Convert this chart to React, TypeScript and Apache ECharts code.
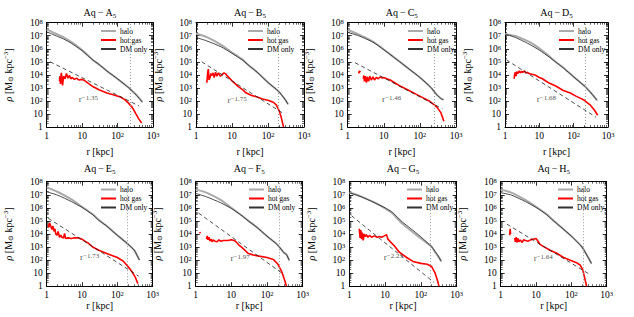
import React, { useEffect, useRef } from 'react';
import * as echarts from 'echarts';

const FONT = '"Liberation Serif", "DejaVu Serif", serif';

const panelNames = ['A', 'B', 'C', 'D', 'E', 'F', 'G', 'H'];
const slopes = ['−1.35', '−1.75', '−1.46', '−1.68', '−1.73', '−1.97', '−2.23', '−1.64'];
const r200 = [224, 193, 246, 217, 196, 221, 188, 210];
const slopeLabelPos = [[15, 140], [13.8, 117], [16.5, 132], [16, 132], [16.5, 158], [17.5, 135], [17, 158], [16, 135]];
const xTicks = [1, 10, 100, 1000];
const yTicks = [1, 10, 100, 1e3, 1e4, 1e5, 1e6, 1e7, 1e8];

const haloA = [[1, 3.1e7], [1.5, 1.8e7], [2, 1.26e7], [3, 7.4e6], [5, 3.2e6], [10, 7.9e5], [20, 1.4e5], [30, 6.3e4], [50, 2e4], [100, 4.8e3], [200, 1.1e3], [260, 5.6e2], [300, 4e2], [400, 1.8e2], [500, 80]];
const dmA = [[1, 2e7], [1.5, 1.26e7], [2, 8.9e6], [3, 5.6e6], [5, 2.6e6], [10, 7.1e5], [20, 1.4e5], [30, 6.3e4], [50, 2e4], [100, 5e3], [200, 1.1e3], [300, 4e2], [500, 80]];
const gasA = [[2.3, 3.16e3], [2.35, 7.9e3], [2.45, 2e3], [2.55, 1e4], [2.6, 1.41e4], [2.7, 3.98e3], [2.8, 1.58e3], [3.0, 7.9e3], [3.3, 5e3], [3.6, 1.26e4], [4.0, 5.6e3], [4.4, 8.9e3], [4.8, 5e3], [5.3, 6.3e3], [6, 4.5e3], [7, 5.6e3], [8, 4e3], [10, 4.5e3], [12, 3.5e3], [15, 2.2e3], [20, 1.26e3], [30, 7.1e2], [50, 4e2], [80, 2.8e2], [120, 2e2], [160, 1.26e2], [200, 71], [260, 32], [330, 10], [400, 4], [480, 2]];
const fitA = [[1.25, 1e5], [400, 42]];

const haloB = [[1, 1.5e7], [2, 7.9e6], [5, 2e6], [10, 5.2e5], [20, 1.4e5], [30, 5e4], [50, 1.6e4], [100, 2.6e3], [200, 5.2e2], [300, 1.26e2], [360, 56]];
const dmB = [[1, 7.4e6], [2, 4e6], [5, 1.4e6], [10, 4.5e5], [20, 1.3e5], [30, 5e4], [50, 1.6e4], [100, 2.6e3], [200, 5.2e2], [300, 1.26e2], [360, 56]];
const gasB = [[2.0, 2.5e3], [2.1, 1.26e4], [2.2, 2.8e4], [2.3, 4e3], [2.45, 6.3e3], [2.6, 1.26e4], [2.8, 8.9e3], [3.0, 1.41e4], [3.2, 6.3e3], [3.5, 1.58e4], [3.8, 7.9e3], [4.2, 1.41e4], [4.7, 7.9e3], [5.2, 1e4], [6, 1.41e4], [6.8, 1.12e4], [7.5, 7.9e3], [8.5, 5.6e3], [10, 3.5e3], [12, 2.2e3], [15, 1.26e3], [20, 7.1e2], [25, 4e2], [35, 2.6e2], [50, 2e2], [70, 1.41e2], [100, 1.12e2], [140, 79], [170, 50], [200, 20], [230, 6.3], [260, 1.58], [270, 1]];
const fitB = [[1.45, 1e5], [280, 10]];

const haloC = [[1, 2.75e7], [2, 1.26e7], [5, 3.5e6], [10, 8.9e5], [20, 2e5], [30, 8.5e4], [50, 2.8e4], [100, 6.3e3], [200, 1.1e3], [300, 2.8e2], [400, 1.4e2], [450, 1.26e2]];
const dmC = [[1, 1.8e7], [2, 1e7], [5, 3.2e6], [10, 8.5e5], [20, 2e5], [30, 8.5e4], [50, 2.8e4], [100, 6.3e3], [200, 1.1e3], [300, 2.8e2], [400, 1.4e2], [450, 1.26e2]];
const gasC = [[2.0, 1.26e4], [2.1, 2e4], [2.25, 1.58e4], [2.4, '-'], [2.7, 5e3], [2.8, 8.9e3], [2.9, 3.16e3], [3.1, 7.9e3], [3.3, 2.5e3], [3.5, 7.1e3], [3.8, 3.16e3], [4.1, 7.9e3], [4.5, 4e3], [5.0, 7.1e3], [5.5, 4e3], [6.2, 6.3e3], [7, 5e3], [8, 7.1e3], [9, 5.6e3], [10, 6.3e3], [12, 5e3], [15, 4e3], [20, 2.5e3], [30, 1.26e3], [50, 6.3e2], [80, 3.16e2], [120, 1.78e2], [180, 1e2], [250, 50], [300, 32], [380, 12.6], [430, 5], [460, 2.8]];
const fitC = [[1.6, 8.5e4], [420, 25]];

const haloD = [[1, 1.35e7], [2, 9.5e6], [3, 6.3e6], [5, 3.5e6], [10, 1.07e6], [20, 2.5e5], [30, 1e5], [50, 3.5e4], [100, 7.2e3], [200, 1.5e3], [300, 5e2], [400, 2e2], [480, 1.12e2]];
const dmD = [[1, 1.35e7], [2, 7.4e6], [3, 4.5e6], [5, 2.3e6], [10, 7.9e5], [20, 2.2e5], [30, 9.5e4], [50, 3.4e4], [100, 7e3], [200, 1.5e3], [300, 5e2], [400, 2e2], [480, 1.12e2]];
const gasD = [[1.85, 5e3], [1.9, 1e4], [2.0, 1.58e4], [2.1, 7.9e3], [2.2, 1.78e4], [2.4, 1.26e4], [2.6, 2e4], [2.8, 1.41e4], [3.0, 1.78e4], [3.3, 1.58e4], [3.7, 2e4], [4, 1.41e4], [4.5, 1.58e4], [5, 1.26e4], [6, 1.12e4], [7, 1e4], [8, 8.9e3], [10, 6.3e3], [12, 5.25e3], [15, 3.55e3], [20, 2.24e3], [30, 1.41e3], [50, 6.3e2], [80, 4e2], [120, 2.24e2], [200, 1.17e2], [300, 50], [400, 20], [500, 7.9]];
const fitD = [[1.1, 1.4e5], [450, 5.6]];

const haloE = [[1, 3.7e7], [2, 1.7e7], [5, 4.4e6], [10, 1.2e6], [20, 3.2e5], [30, 1.15e5], [50, 4e4], [100, 7.9e3], [200, 1.66e3], [300, 5.75e2], [420, 1e2]];
const dmE = [[1, 1.7e7], [2, 9.5e6], [5, 3e6], [10, 1.07e6], [20, 3e5], [30, 1.1e5], [50, 4e4], [100, 7.9e3], [200, 1.66e3], [300, 5.75e2], [420, 1e2]];
const gasE = [[1.1, 5.6e4], [1.15, 3.16e4], [1.2, 7.1e4], [1.3, 4e4], [1.4, 2.24e4], [1.5, 4e4], [1.6, 1.58e4], [1.7, 2.5e4], [1.8, 1e4], [1.95, 7.9e3], [2.1, 1.58e4], [2.3, 5.6e3], [2.5, 7.9e3], [2.7, 5.6e3], [3.0, 5e3], [3.2, 1.12e4], [3.4, 4.5e3], [4, 5e3], [5, 4.5e3], [6, 5e3], [8, 5e3], [10, 4e3], [12, 2.8e3], [15, 2e3], [20, 1e3], [30, 5.6e2], [50, 3.16e2], [80, 2e2], [100, 1.58e2], [150, 79], [200, 32], [260, 12.6], [320, 5], [380, 1.58]];
const fitE = [[1.1, 1.6e5], [400, 5.9]];

const haloF = [[1, 2.6e7], [2, 1.45e7], [5, 4e6], [10, 1e6], [20, 2.5e5], [30, 1e5], [50, 3.5e4], [100, 6.8e3], [200, 1.4e3], [300, 3.55e2], [350, 2.8e2], [420, 95]];
const dmF = [[1, 1.26e7], [2, 7e6], [5, 2.45e6], [10, 8.9e5], [20, 2.4e5], [30, 1e5], [50, 3.5e4], [100, 6.8e3], [200, 1.4e3], [300, 3.55e2], [350, 2.6e2], [420, 95]];
const gasF = [[1.3, 1.41e4], [1.35, 1.12e4], [1.6, '-'], [2.0, 4e3], [2.1, 7.1e3], [2.2, 3.55e3], [2.35, 5.6e3], [2.5, 2.8e3], [2.7, 4e3], [2.9, 2.5e3], [3.1, 3.55e3], [3.5, 2.8e3], [4, 2.5e3], [4.5, 3.55e3], [5, 2.8e3], [6, 3.16e3], [8, 3.16e3], [10, 3.55e3], [12, 3.16e3], [14, 2.24e3], [17, 1.26e3], [20, 8.9e2], [25, 5e2], [30, 3.16e2], [40, 2.5e2], [60, 2e2], [100, 1.58e2], [150, 1.12e2], [200, 50], [250, 15.8], [300, 4], [350, 1]];
const fitF = [[1.2, 4e5], [300, 7.6]];

const haloG = [[1, 1.5e7], [2, 7.9e6], [5, 2.6e6], [10, 8.9e5], [15, 4.5e5], [20, 2e5], [30, 6.3e4], [50, 2e4], [100, 4.5e3], [150, 2e3], [190, 1.26e3], [210, 8.9e2], [250, 4e2], [300, 2e2], [370, 80]];
const dmG = [[1, 1.45e7], [2, 7.6e6], [5, 2.5e6], [10, 1e6], [15, 5.2e5], [20, 2.5e5], [30, 8.5e4], [50, 2.8e4], [100, 6e3], [200, 1e3], [300, 2.24e2], [370, 80]];
const gasG = [[1.9, 2.5e4], [2.0, 5e3], [2.1, 2e4], [2.2, 4e3], [2.3, 1.26e4], [2.45, 3.16e3], [2.6, 1e4], [2.8, 6.3e3], [3.0, 8.9e3], [3.3, 5.6e3], [3.7, 7.9e3], [4.2, 5.6e3], [5, 7.1e3], [6, 5.6e3], [7, 6.3e3], [8, 5.6e3], [9.5, 7.1e3], [11, 8.9e3], [12, 4e3], [14, 2.5e3], [18, 1.26e3], [25, 4e2], [40, 1.58e2], [60, 79], [100, 56], [150, 48], [200, 32], [250, 10], [290, 2.8], [320, 1]];
const fitG = [[1.15, 2.5e5], [230, 2]];

const haloH = [[1, 2.6e7], [2, 1.45e7], [5, 4e6], [10, 1.2e6], [20, 3.2e5], [30, 1.15e5], [50, 3.5e4], [100, 6.8e3], [200, 1e3], [300, 1.58e2], [370, 54]];
const dmH = [[1, 1.45e7], [2, 9.5e6], [5, 3e6], [10, 1.07e6], [20, 3e5], [30, 1.1e5], [50, 3.5e4], [100, 6.8e3], [200, 1e3], [300, 1.58e2], [370, 54]];
const gasH = [[1.8, 7.9e3], [1.85, 2.5e4], [1.9, 1e4], [2.2, '-'], [2.5, 5e3], [2.6, 2.5e3], [2.75, 5.6e3], [2.9, 2.24e3], [3.1, 4.5e3], [3.3, 2.5e3], [3.6, 3.55e3], [4, 2.24e3], [4.5, 3.55e3], [5, 3.16e3], [6, 2.8e3], [7, 3.55e3], [8.5, 4e3], [10, 4.5e3], [11, 3.16e3], [13, 1.58e3], [16, 1.12e3], [25, 5.6e2], [40, 3.16e2], [60, 1.58e2], [90, 1e2], [140, 63], [180, 40], [210, 17.8], [240, 4], [270, 1]];
const fitH = [[1.5, 5.6e4], [340, 7.7]];

const haloAll = [haloA, haloB, haloC, haloD, haloE, haloF, haloG, haloH];
const dmAll = [dmA, dmB, dmC, dmD, dmE, dmF, dmG, dmH];
const gasAll = [gasA, gasB, gasC, gasD, gasE, gasF, gasG, gasH];
const fitAll = [fitA, fitB, fitC, fitD, fitE, fitF, fitG, fitH];

// layout (px): left, top, width, height
const boxes = [
  [46.7, 22.7, 106.3, 104.3], [196, 22.7, 108, 104.3], [347.7, 22.7, 108.3, 104.3], [505, 22.7, 103, 104.3],
  [46.7, 181.7, 106, 104.5], [195.7, 181.7, 107, 104.5], [349.3, 181.7, 107.4, 104.5], [500.7, 181.7, 106, 104.5],
];
const legendLeft = [100, 247, 407, 558, 100, 248, 406, 557];

function powFmt(v: number) {
  const e = Math.round(Math.log10(v));
  if (e === 0) return '1';
  if (e === 1) return '10';
  return '10{sup|' + e + '}';
}

function buildOption() {
  const grid: any[] = [], xAxis: any[] = [], yAxis: any[] = [], series: any[] = [], legend: any[] = [], graphic: any[] = [];
  const tickStyle = { color: '#000', width: 0.8 };
  const labelRich = { sup: { fontSize: 6.5, fontFamily: FONT, color: '#000', verticalAlign: 'top', lineHeight: 8 } };
  panelNames.forEach((nm, i) => {
    const [l, t, w, h] = boxes[i];
    const top = i < 4;
    grid.push({ left: l, top: t, width: w, height: h, containLabel: false });
    const common = {
      gridIndex: i, type: 'log', logBase: 10,
      axisLine: { show: true, lineStyle: { color: '#000', width: 1 } },
      axisTick: { show: true, inside: true, length: 4, lineStyle: tickStyle },
      minorTick: { show: true, splitNumber: 9, length: 2, lineStyle: { color: '#000', width: 0.6 } },
      splitLine: { show: false },
      minorSplitLine: { show: false },
    };
    xAxis.push({
      ...common, position: 'bottom', min: xTicks[0], max: xTicks[xTicks.length - 1], splitNumber: 3,
      axisLabel: { formatter: powFmt, color: '#000', fontSize: 9.5, fontFamily: FONT, margin: 4, rich: labelRich },
      name: 'r [kpc]', nameLocation: 'middle', nameGap: top ? 19 : 14, nameMoveOverlap: false,
      nameTextStyle: { fontSize: 10, fontFamily: FONT, color: '#000', fontWeight: 400 },
    });
    xAxis.push({ ...common, position: 'top', min: xTicks[0], max: xTicks[xTicks.length - 1], splitNumber: 3, axisLabel: { show: false } });
    yAxis.push({
      ...common, position: 'left', min: yTicks[0], max: yTicks[yTicks.length - 1], splitNumber: 8,
      axisLabel: { formatter: powFmt, color: '#000', fontSize: 9.5, fontFamily: FONT, margin: 4, rich: labelRich },
      name: '{it|ρ} [M{sub|⊙} kpc{sup|−3}]', nameLocation: 'middle', nameGap: 32, nameRotate: 90, nameMoveOverlap: false,
      nameTextStyle: {
        fontSize: 10, fontFamily: FONT, color: '#000', fontWeight: 400,
        rich: {
          it: { fontStyle: 'italic', fontSize: 10, fontFamily: FONT, color: '#000', fontWeight: 400 },
          sub: { fontSize: 7, fontFamily: FONT, color: '#000', verticalAlign: 'bottom', lineHeight: 12, fontWeight: 400 },
          sup: { fontSize: 7, fontFamily: FONT, color: '#000', verticalAlign: 'top', lineHeight: 12, fontWeight: 400 },
        },
      },
    });
    yAxis.push({ ...common, position: 'right', min: yTicks[0], max: yTicks[yTicks.length - 1], splitNumber: 8, axisLabel: { show: false } });

    const xi = 2 * i, yi = 2 * i;
    series.push({
      name: 'halo', type: 'line', xAxisIndex: xi, yAxisIndex: yi, data: haloAll[i], symbol: 'none', smooth: 0.2,
      lineStyle: { color: '#aaaaaa', width: 2 }, itemStyle: { color: '#aaaaaa' }, z: 2,
      markLine: {
        silent: true, symbol: ['none', 'none'], label: { show: false },
        lineStyle: { color: '#999', type: [1, 2], width: 1 }, data: [{ xAxis: r200[i] }],
      },
    });
    series.push({
      name: 'DM only', type: 'line', xAxisIndex: xi, yAxisIndex: yi, data: dmAll[i], symbol: 'none', smooth: 0.2,
      lineStyle: { color: '#333333', width: 0.9 }, itemStyle: { color: '#333333' }, z: 3,
    });
    series.push({
      name: 'hot gas', type: 'line', xAxisIndex: xi, yAxisIndex: yi, data: gasAll[i], symbol: 'none',
      lineStyle: { color: '#ff0000', width: 1.6 }, itemStyle: { color: '#ff0000' }, z: 4, connectNulls: false,
    });
    series.push({
      name: 'fit', type: 'line', xAxisIndex: xi, yAxisIndex: yi, data: fitAll[i], symbol: 'none',
      lineStyle: { color: '#222', width: 0.8, type: [4, 3] }, z: 5,
    });
    series.push({
      name: 'slope', type: 'scatter', xAxisIndex: xi, yAxisIndex: yi, data: [slopeLabelPos[i]],
      symbolSize: 1, itemStyle: { color: 'rgba(0,0,0,0)' }, z: 6, silent: true,
      label: {
        show: true, position: 'inside', formatter: 'r{sup|' + slopes[i] + '}', color: '#222',
        fontSize: 9, fontFamily: FONT,
        rich: { sup: { fontSize: 7, fontFamily: FONT, color: '#222', verticalAlign: 'top', lineHeight: 10 } },
      },
    });
    legend.push({
      left: legendLeft[i], top: top ? 27 : 185.5, orient: 'vertical', padding: 0,
      itemWidth: 15, itemHeight: 6, itemGap: 1, selectedMode: false,
      itemStyle: { opacity: 0 },
      data: ['halo', 'hot gas', 'DM only'],
      textStyle: { fontSize: 7.5, fontFamily: FONT, color: '#000', padding: [0, 0, 0, -1] },
    });
    graphic.push({
      type: 'text', x: l + w / 2, y: top ? 12.5 : 168.5,
      style: {
        text: 'Aq\u2009−\u2009' + nm + '{sub|5}', fontSize: 10, fontFamily: FONT, fontWeight: 400, fill: '#000', align: 'center', verticalAlign: 'middle',
        rich: { sub: { fontSize: 7, fontFamily: FONT, fontWeight: 400, fill: '#000', verticalAlign: 'bottom', lineHeight: 13 } },
      },
    });
  });
  return { animation: false, backgroundColor: '#fff', grid, xAxis, yAxis, series, legend, graphic };
}

export default function App() {
  const ref = useRef<HTMLDivElement>(null);
  useEffect(() => {
    document.body.style.margin = '0';
    const chart = echarts.init(ref.current!, null, { renderer: 'svg' });
    chart.setOption(buildOption() as any);
    return () => chart.dispose();
  }, []);
  return <div ref={ref} style={{ width: 634, height: 317 }} />;
}
